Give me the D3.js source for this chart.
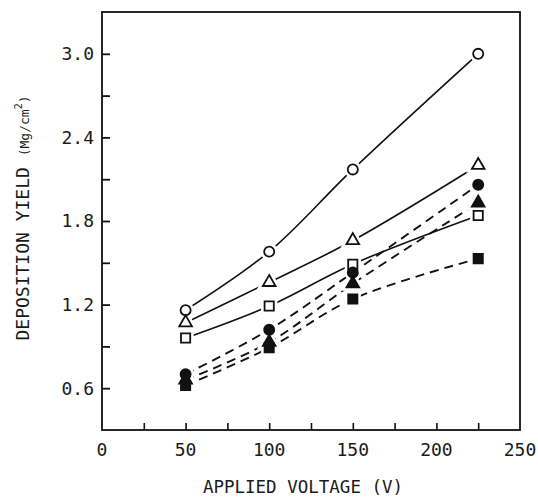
<!DOCTYPE html>
<html>
<head>
<meta charset="utf-8">
<script src="https://cdn.jsdelivr.net/npm/d3@7"></script>
<style>
  html, body { margin: 0; padding: 0; background: #fff; }
  svg text { font-family: "DejaVu Sans Mono", "Liberation Mono", monospace; fill: #1a1a1a; }
</style>
</head>
<body>
<svg id="chart" width="538" height="497"></svg>
<script>
// Applied voltage (V) at which each deposition run was made
const voltages = [50, 100, 150, 225];

// Deposition yield (mg/cm^2) for each series
const openCircle   = [1.16, 1.58, 2.17, 3.00];
const openTriangle = [1.07, 1.36, 1.66, 2.20];
const openSquare   = [0.96, 1.19, 1.49, 1.84];
const fillCircle   = [0.70, 1.02, 1.43, 2.06];
const fillTriangle = [0.66, 0.93, 1.35, 1.93];
const fillSquare   = [0.62, 0.89, 1.24, 1.53];

// Axis ticks
const xTicks = [25, 50, 75, 100, 125, 150, 175, 200, 225];
const xTickLabels = [0, 50, 100, 150, 200, 250];
const yTicks = [0.6, 0.9, 1.2, 1.5, 1.8, 2.1, 2.4, 2.7, 3.0];
const yTickLabels = [0.6, 1.2, 1.8, 2.4, 3.0];

const series = [
  { values: openCircle,   shape: "circle",   filled: false, dashed: false },
  { values: openTriangle, shape: "triangle", filled: false, dashed: false },
  { values: openSquare,   shape: "square",   filled: false, dashed: false },
  { values: fillCircle,   shape: "circle",   filled: true,  dashed: true },
  { values: fillTriangle, shape: "triangle", filled: true,  dashed: true },
  { values: fillSquare,   shape: "square",   filled: true,  dashed: true }
];

const svg = d3.select("#chart");
const margin = { left: 102, right: 18, top: 12, bottom: 67 };
const W = 538, H = 497;

const x = d3.scaleLinear().domain([0, 250]).range([margin.left, W - margin.right]);
const y = d3.scaleLinear().domain([0.3, 3.3]).range([H - margin.bottom, margin.top]);

const ink = "#111";

// Frame
svg.append("rect")
  .attr("x", x(0)).attr("y", y(3.3))
  .attr("width", x(250) - x(0)).attr("height", y(0.3) - y(3.3))
  .attr("fill", "none").attr("stroke", ink).attr("stroke-width", 1.8);

// Inward ticks on the left axis
const yAxis = d3.axisRight(y).tickValues(yTicks).tickSize(8).tickFormat("");
svg.append("g").attr("transform", `translate(${x(0)},0)`).call(yAxis)
  .call(g => g.select(".domain").remove())
  .call(g => g.selectAll(".tick line").attr("stroke", ink).attr("stroke-width", 1.8));

// Inward ticks on the bottom axis
const xAxis = d3.axisTop(x).tickValues(xTicks).tickSize(7).tickFormat("");
svg.append("g").attr("transform", `translate(0,${y(0.3)})`).call(xAxis)
  .call(g => g.select(".domain").remove())
  .call(g => g.selectAll(".tick line").attr("stroke", ink).attr("stroke-width", 1.6));

// Tick labels
svg.append("g").selectAll("text").data(yTickLabels).join("text")
  .attr("x", x(0) - 8).attr("y", d => y(d))
  .attr("dy", "0.36em").attr("text-anchor", "end")
  .attr("font-size", 18)
  .text(d => d3.format(".1f")(d));

svg.append("g").selectAll("text").data(xTickLabels).join("text")
  .attr("x", d => x(d)).attr("y", y(0.3) + 26)
  .attr("text-anchor", "middle")
  .attr("font-size", 18)
  .text(d => d);

// Axis titles
svg.append("text")
  .attr("x", (x(0) + x(250)) / 2 - 8).attr("y", 493)
  .attr("text-anchor", "middle").attr("font-size", 17.5)
  .text("APPLIED VOLTAGE (V)");

const yTitle = svg.append("text")
  .attr("transform", `translate(29,${(y(0.3) + y(3.3)) / 2 - 3}) rotate(-90)`)
  .attr("text-anchor", "middle").attr("font-size", 18);
yTitle.append("tspan").text("DEPOSITION YIELD ");
yTitle.append("tspan").attr("font-size", 13).text("(Mg/cm");
yTitle.append("tspan").attr("font-size", 10).attr("dy", -7).text("2");
yTitle.append("tspan").attr("font-size", 13).attr("dy", 7).text(")");

// Lines
const line = d3.line()
  .x((d, i) => x(voltages[i]))
  .y(d => y(d))
  .curve(d3.curveCatmullRom.alpha(0.5));

svg.append("g").selectAll("path").data(series).join("path")
  .attr("d", s => line(s.values))
  .attr("fill", "none").attr("stroke", ink)
  .attr("stroke-width", s => s.dashed ? 1.9 : 1.6)
  .attr("stroke-dasharray", s => s.dashed ? "9,6" : null);

// Markers
const sym = {
  circle: d3.symbolCircle,
  triangle: d3.symbolTriangle,
  square: d3.symbolSquare
};
const symSize = { circle: 80, triangle: 70, square: 85 };

const pts = series.flatMap(s => s.values.map((v, i) => ({ s, v, xv: voltages[i] })));

// White halo so that lines stop short of each marker
svg.append("g").selectAll("path").data(pts).join("path")
  .attr("transform", d => `translate(${x(d.xv)},${y(d.v)})`)
  .attr("d", d => d3.symbol(sym[d.s.shape], symSize[d.s.shape])())
  .attr("fill", "#fff").attr("stroke", "#fff").attr("stroke-width", 7);

svg.append("g").selectAll("path").data(pts).join("path")
  .attr("transform", d => `translate(${x(d.xv)},${y(d.v)})`)
  .attr("d", d => d3.symbol(sym[d.s.shape], symSize[d.s.shape])())
  .attr("fill", d => d.s.filled ? ink : "#fff")
  .attr("stroke", ink).attr("stroke-width", 1.8);
</script>
</body>
</html>
